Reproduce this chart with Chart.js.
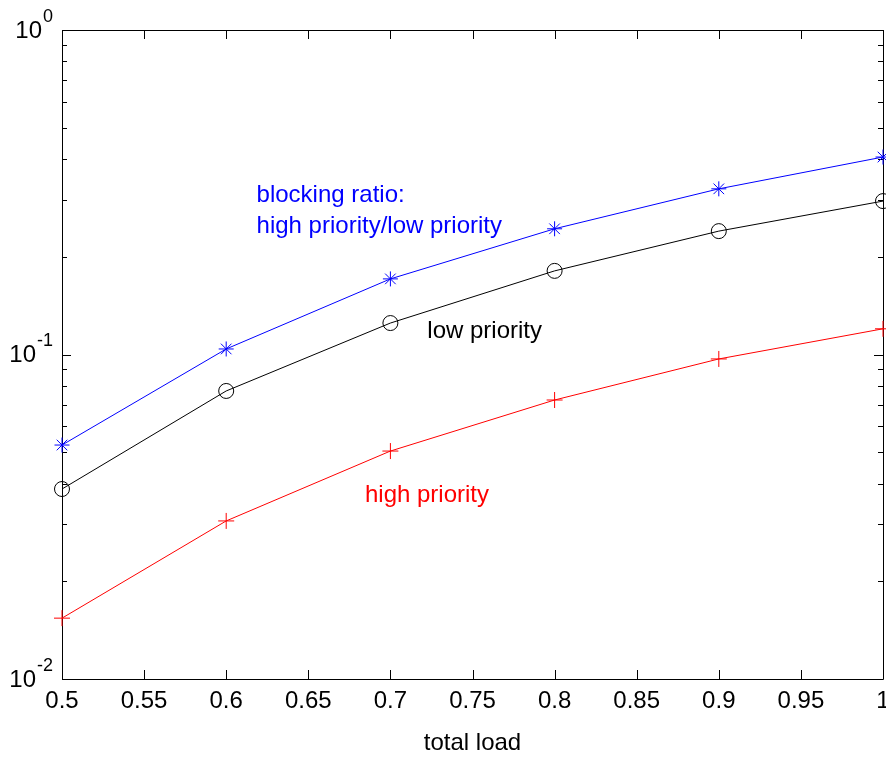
<!DOCTYPE html>
<html>
<head>
<meta charset="utf-8">
<script src="https://cdn.jsdelivr.net/npm/chart.js@4.4.0/dist/chart.umd.min.js"></script>
<style>
  html, body { margin: 0; padding: 0; background: #fff; overflow: hidden; }
  #wrap { position: relative; width: 886px; height: 757px; }
</style>
</head>
<body>
<div id="wrap"><canvas id="c" width="886" height="757"></canvas></div>
<script>
// Total offered load on the x axis
const totalLoad = [0.5, 0.6, 0.7, 0.8, 0.9, 1.0];
// Blocking probabilities per class and their ratio
const blockingRatio = [0.0526, 0.104, 0.171, 0.244, 0.324, 0.406];
const lowPriority   = [0.0385, 0.0772, 0.125, 0.181, 0.240, 0.297];
const highPriority  = [0.0154, 0.0307, 0.0504, 0.0724, 0.0969, 0.120];

// Axis tick values
const xTicks = [0.5, 0.55, 0.6, 0.65, 0.7, 0.75, 0.8, 0.85, 0.9, 0.95, 1.0];
const yDecades = [-2, -1, 0];

// In-plot curve labels, anchored in data coordinates
const curveLabels = [
  { lines: ['blocking ratio:', 'high priority/low priority'], x: 0.6185, y: 0.296, color: '#0000ff' },
  { lines: ['low priority'], x: 0.7225, y: 0.1125, color: '#000000' },
  { lines: ['high priority'], x: 0.6845, y: 0.0350, color: '#ff0000' }
];

const FONT = '"Liberation Sans", Arial, sans-serif';

const axesBox = {
  id: 'axesBox',
  beforeDatasetsDraw(chart) {
    const { ctx, chartArea: a, scales: { x, y } } = chart;
    ctx.save();
    ctx.strokeStyle = '#000';
    ctx.lineWidth = 1;
    ctx.beginPath();
    // frame
    ctx.rect(a.left + 0.5, a.top + 0.5, a.right - a.left, a.bottom - a.top);
    // x ticks, bottom and top, pointing inward
    xTicks.forEach(v => {
      const px = Math.round(x.getPixelForValue(v)) + 0.5;
      ctx.moveTo(px, a.bottom); ctx.lineTo(px, a.bottom - 9);
      ctx.moveTo(px, a.top);    ctx.lineTo(px, a.top + 9);
    });
    // y ticks: decades long, 2..9 short
    for (let d = yDecades[0]; d < yDecades[yDecades.length - 1]; d++) {
      for (let m = 1; m <= 9; m++) {
        const v = m * Math.pow(10, d);
        const py = Math.round(y.getPixelForValue(v)) + 0.5;
        const len = m === 1 ? 9 : 5;
        ctx.moveTo(a.left, py);  ctx.lineTo(a.left + len, py);
        ctx.moveTo(a.right, py); ctx.lineTo(a.right - len, py);
      }
    }
    ctx.stroke();

    // y tick labels as 10 with a superscript exponent
    ctx.fillStyle = '#000';
    yDecades.forEach(d => {
      const py = y.getPixelForValue(Math.pow(10, d));
      const rightEdge = a.left - 9;
      ctx.font = '18px ' + FONT;
      ctx.textAlign = 'right';
      ctx.textBaseline = 'middle';
      const exp = String(d);
      const ew = ctx.measureText(exp).width;
      ctx.fillText(exp, rightEdge, py - 13);
      ctx.font = '24px ' + FONT;
      ctx.fillText('10', rightEdge - ew - 1, py + 1);
    });

    // curve labels
    ctx.textAlign = 'left';
    ctx.textBaseline = 'alphabetic';
    ctx.font = '24px ' + FONT;
    curveLabels.forEach(lb => {
      ctx.fillStyle = lb.color;
      const px = x.getPixelForValue(lb.x);
      const py = y.getPixelForValue(lb.y);
      lb.lines.forEach((t, i) => ctx.fillText(t, px, py + i * 31));
    });
    ctx.restore();
  }
};

function series(label, data, color, style, radius) {
  return {
    label, data,
    borderColor: color,
    borderWidth: 1,
    pointStyle: style,
    pointRadius: radius,
    pointHoverRadius: radius,
    pointBorderColor: color,
    pointBorderWidth: 1,
    pointBackgroundColor: 'rgba(0,0,0,0)',
    fill: false,
    tension: 0,
    clip: false
  };
}

new Chart(document.getElementById('c'), {
  type: 'line',
  data: {
    labels: totalLoad,
    datasets: [
      series('blocking ratio: high priority/low priority',
             totalLoad.map((v, i) => ({ x: v, y: blockingRatio[i] })), '#0000ff', 'star', 7.5),
      series('low priority',
             totalLoad.map((v, i) => ({ x: v, y: lowPriority[i] })), '#000000', 'circle', 7.5),
      series('high priority',
             totalLoad.map((v, i) => ({ x: v, y: highPriority[i] })), '#ff0000', 'cross', 8)
    ]
  },
  options: {
    responsive: false,
    animation: false,
    events: [],
    layout: { autoPadding: false, padding: { top: 30, right: 3, left: 0, bottom: 0 } },
    plugins: { legend: { display: false }, tooltip: { enabled: false } },
    scales: {
      x: {
        type: 'linear',
        min: 0.5, max: 1.0,
        grid: { display: false, drawTicks: false },
        border: { display: false },
        afterBuildTicks(s) { s.ticks = xTicks.map(v => ({ value: v })); },
        ticks: {
          color: '#000',
          padding: 8,
          maxRotation: 0,
          autoSkip: false,
          font: { family: FONT, size: 24 },
          callback: v => String(+v.toFixed(2))
        },
        title: {
          display: true, text: 'total load', color: '#000',
          font: { family: FONT, size: 24, lineHeight: 1.1 },
          padding: { top: 0, bottom: 0 }
        },
        afterFit(s) { s.height = 78; s.paddingLeft = 0; s.paddingRight = 0; }
      },
      y: {
        type: 'logarithmic',
        min: 0.01, max: 1,
        grid: { display: false, drawTicks: false },
        border: { display: false },
        ticks: { display: false },
        afterFit(s) { s.width = 62; }
      }
    }
  },
  plugins: [axesBox]
});
</script>
</body>
</html>
